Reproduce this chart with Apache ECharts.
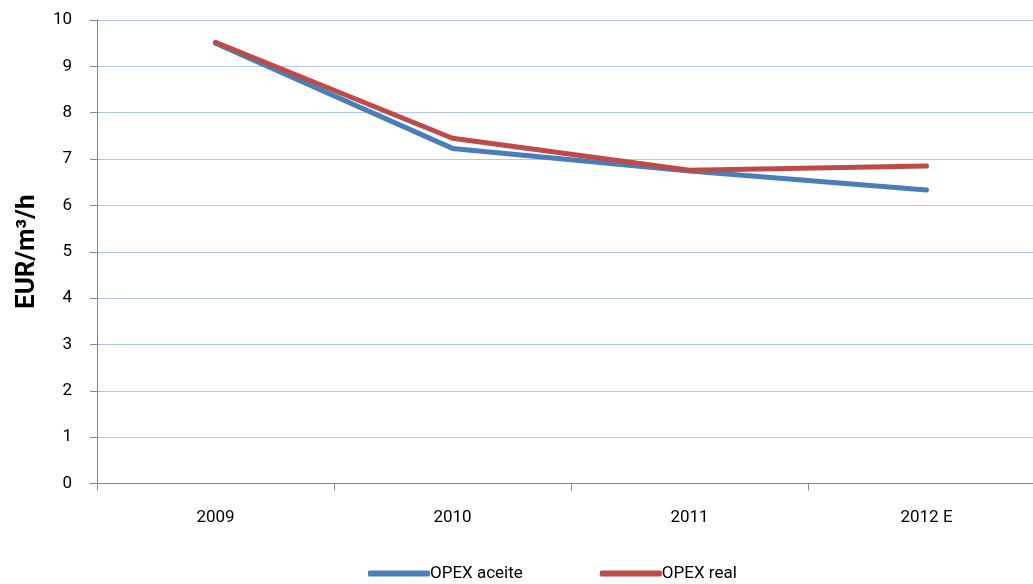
<!DOCTYPE html>
<html>
<head>
<meta charset="utf-8">
<script src="https://cdn.jsdelivr.net/npm/echarts@6/dist/echarts.min.js"></script>
<style>
  html, body { margin: 0; padding: 0; background: #fff; }
  #chart { width: 1033px; height: 584px; }
</style>
</head>
<body>
<div id="chart"></div>
<script>
// Years on the category axis
const years = ['2009', '2010', '2011', '2012 E'];
// Operating cost per m³/h, in EUR
const opexAceite = [9.50, 7.23, 6.74, 6.33];
const opexReal = [9.52, 7.45, 6.76, 6.85];
// Value-axis range and step
const yMin = 0, yMax = 10, yStep = 1;

const FONT = 'Roboto, "Open Sans", sans-serif';
const chart = echarts.init(document.getElementById('chart'), null, { renderer: 'canvas' });

chart.setOption({
  animation: false,
  backgroundColor: '#ffffff',
  // the plot runs past the right edge of the canvas
  grid: { left: 97, top: 20, width: 948, bottom: 100.5, containLabel: false, outerBoundsMode: 'none' },
  legend: {
    top: 560,
    left: 363,
    icon: 'roundRect',
    itemWidth: 62,
    itemHeight: 6,
    itemGap: 77,
    textStyle: { fontFamily: FONT, fontSize: 17, color: '#000', padding: [0, 0, 0, -5] },
    data: ['OPEX aceite', 'OPEX real']
  },
  xAxis: {
    type: 'category',
    data: years,
    boundaryGap: true,
    axisLine: { lineStyle: { color: '#868686', width: 1 } },
    axisTick: { show: true, length: 7, lineStyle: { color: '#868686' } },
    axisLabel: { fontFamily: FONT, fontSize: 17, color: '#000', margin: 26 },
    splitLine: { show: false }
  },
  yAxis: {
    type: 'value',
    min: yMin,
    max: yMax,
    interval: yStep,
    name: 'EUR/m³/h',
    nameLocation: 'middle',
    nameGap: 57,
    nameRotate: 90,
    nameTextStyle: { fontFamily: FONT, fontSize: 26, fontWeight: 'bold', color: '#000' },
    axisLine: { show: true, lineStyle: { color: '#868686', width: 1 } },
    axisTick: { show: true, length: 7, lineStyle: { color: '#868686' } },
    axisLabel: { fontFamily: FONT, fontSize: 17, color: '#000', margin: 25 },
    splitLine: { show: true, lineStyle: { color: '#b3c8e6', width: 1.2 } }
  },
  series: [
    {
      name: 'OPEX aceite',
      type: 'line',
      data: opexAceite,
      symbol: 'none',
      color: '#4a7ebb',
      lineStyle: { width: 5, color: '#4a7ebb', cap: 'round', join: 'round' }
    },
    {
      name: 'OPEX real',
      type: 'line',
      data: opexReal,
      symbol: 'none',
      color: '#be4b48',
      lineStyle: { width: 5, color: '#be4b48', cap: 'round', join: 'round' }
    }
  ]
});
</script>
</body>
</html>
